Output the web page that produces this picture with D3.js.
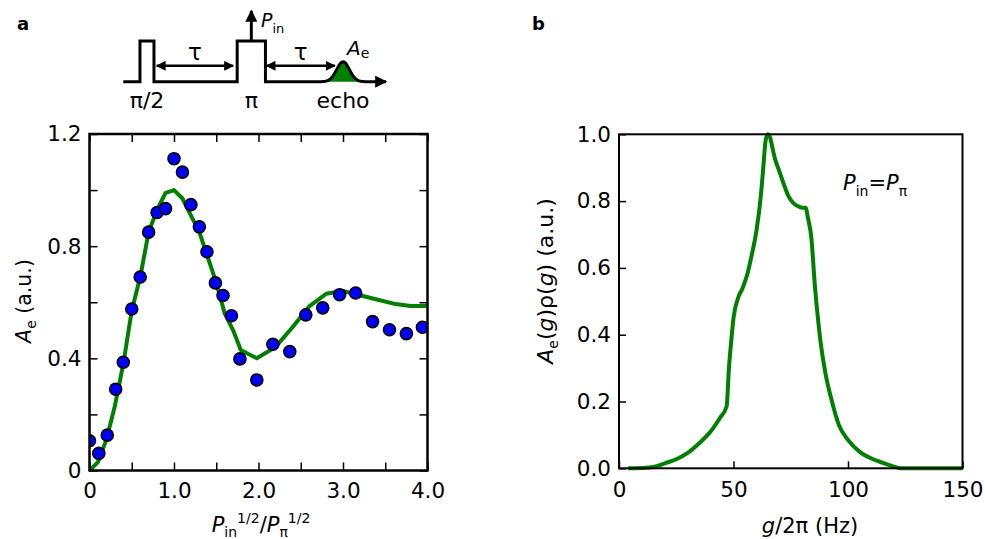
<!DOCTYPE html>
<html>
<head>
<meta charset="utf-8">
<script src="https://cdn.jsdelivr.net/npm/d3@7"></script>
<style>
  body { margin: 0; background: #fff; }
  svg { display: block; }
  .tick text { font-family: "DejaVu Sans", sans-serif; font-size: 21.5px; fill: #000; }
  .lbl { font-family: "DejaVu Sans", sans-serif; fill: #000; }
</style>
</head>
<body>
<svg width="985" height="539"></svg>
<script>
// panel a: fit curve and measured points
const fitX = [0,0.1,0.2,0.3,0.4,0.5,0.6,0.7,0.8,0.9,1.0,1.1,1.2,1.3,1.4,1.5,1.6,1.7,1.79,1.98,2.2,2.4,2.6,2.8,3.0,3.2,3.4,3.6,3.8,4.0]
const fitY = [0,0.03,0.11,0.23,0.38,0.57,0.69,0.85,0.93,0.99,1.0,0.97,0.91,0.85,0.76,0.67,0.56,0.50,0.43,0.40,0.44,0.51,0.585,0.63,0.64,0.625,0.61,0.595,0.587,0.587]
const dotX = [0,0.11,0.21,0.31,0.40,0.50,0.60,0.70,0.80,0.90,1.0,1.10,1.20,1.30,1.39,1.49,1.58,1.68,1.78,1.98,2.17,2.37,2.56,2.76,2.96,3.15,3.35,3.55,3.75,3.94]
const dotY = [0.106,0.061,0.126,0.29,0.386,0.576,0.69,0.85,0.92,0.934,1.112,1.064,0.948,0.869,0.78,0.669,0.624,0.552,0.398,0.323,0.45,0.424,0.555,0.58,0.627,0.633,0.531,0.502,0.488,0.511]
const aXTicks = [0,0.5,1,1.5,2,2.5,3,3.5,4]
const aXLabels = ["0","","1.0","","2.0","","3.0","","4.0"]
const aYTicks = [0,0.2,0.4,0.6,0.8,1.0,1.2]
const aYLabels = ["0","","0.4","","0.8","","1.2"]

// panel b: distribution
const gX = [4,10,15,20,25,30,35,40,44,47,48,49,50,52,54,56,58,60,62,63,64,65,66,67,68,70,72,74,76,78,80,81.5,82.5,84,85.5,87,88,90,93,96,100,105,110,115,120,123,135,150]
const gY = [0,0.001,0.004,0.015,0.027,0.046,0.075,0.11,0.15,0.185,0.30,0.38,0.45,0.51,0.54,0.58,0.64,0.71,0.82,0.90,0.98,1.0,0.99,0.96,0.93,0.89,0.85,0.815,0.795,0.785,0.78,0.78,0.75,0.69,0.55,0.44,0.38,0.29,0.20,0.13,0.085,0.05,0.03,0.017,0.005,0,0,0]
const bXTicks = [0,50,100,150]
const bYTicks = [0,0.2,0.4,0.6,0.8,1.0]

// pulse sequence sketch (time units / amplitude units)
const pulses = [[0.625,1.15],[4.27,5.33]]
const tauArrows = [[1.25,4.12],[5.37,7.93]]
const echoT = 8.24, echoAmp = 0.49, echoW = 0.24

const green = "#008000"
const svg = d3.select("svg")
svg.append("rect").attr("width",985).attr("height",539).attr("fill","#fff")

const defs = svg.append("defs")
defs.append("marker").attr("id","ah").attr("viewBox","0 0 10 10")
  .attr("refX",9).attr("refY",5).attr("markerWidth",4).attr("markerHeight",4)
  .attr("markerUnits","strokeWidth").attr("orient","auto-start-reverse")
  .append("path").attr("d","M0,0L10,5L0,10z").attr("fill","#000")
defs.append("clipPath").attr("id","clipA").append("rect")
  .attr("x",89.5).attr("y",134).attr("width",338).attr("height",336.5)

function axes(g, x, y, xt, xl, yt, yl, mirror, tick, pad) {
  g.append("g").attr("transform",`translate(0,${y.range()[0]})`)
    .call(d3.axisBottom(x).tickValues(xt).tickSize(-tick).tickPadding(pad).tickFormat((d,i)=>xl[i]))
  g.append("g").attr("transform",`translate(${x.range()[0]},0)`)
    .call(d3.axisLeft(y).tickValues(yt).tickSize(-tick).tickPadding(8).tickFormat((d,i)=>yl[i]))
  if (mirror) {
    g.append("g").attr("transform",`translate(0,${y.range()[1]})`)
      .call(d3.axisTop(x).tickValues(xt).tickSize(-tick).tickFormat(""))
    g.append("g").attr("transform",`translate(${x.range()[1]},0)`)
      .call(d3.axisRight(y).tickValues(yt).tickSize(-tick).tickFormat(""))
  }
  g.selectAll(".domain").remove()
  g.selectAll(".tick line").attr("stroke","#000").attr("stroke-width",1.5)
}

// ---------- panel a ----------
const xA = d3.scaleLinear([0,4],[89.5,427.5])
const yA = d3.scaleLinear([0,1.2],[470.5,134])
const gA = svg.append("g")
const plotA = gA.append("g").attr("clip-path","url(#clipA)")
plotA.append("path")
  .attr("d", d3.line().x((d,i)=>xA(fitX[i])).y(d=>yA(d))(fitY))
  .attr("fill","none").attr("stroke",green).attr("stroke-width",4).attr("stroke-linejoin","round")
plotA.selectAll("circle").data(dotY).join("circle")
  .attr("cx",(d,i)=>xA(dotX[i])).attr("cy",d=>yA(d)).attr("r",6)
  .attr("fill","#0000ff").attr("stroke","#000").attr("stroke-width",1.6)
axes(gA, xA, yA, aXTicks, aXLabels, aYTicks, aYLabels, true, 8, 12)
gA.append("rect").attr("x",89.5).attr("y",134).attr("width",338).attr("height",336.5)
  .attr("fill","none").attr("stroke","#000").attr("stroke-width",2.5)

const xl = gA.append("text").attr("class","lbl").attr("x",261).attr("y",532)
  .attr("text-anchor","middle").attr("font-size",21)
xl.append("tspan").attr("font-style","italic").text("P")
xl.append("tspan").attr("font-size",14).attr("dy",5).text("in")
xl.append("tspan").attr("font-size",14).attr("dy",-14).text("1/2")
xl.append("tspan").attr("dy",9).text("/")
xl.append("tspan").attr("font-style","italic").text("P")
xl.append("tspan").attr("font-size",14).attr("dy",5).text("π")
xl.append("tspan").attr("font-size",14).attr("dy",-14).text("1/2")

const yl = gA.append("text").attr("class","lbl").attr("transform","translate(31,301) rotate(-90)")
  .attr("text-anchor","middle").attr("font-size",20.5)
yl.append("tspan").attr("font-style","italic").text("A")
yl.append("tspan").attr("font-size",14).attr("dy",5).text("e")
yl.append("tspan").attr("dy",-5).text(" (a.u.)")

svg.append("text").attr("class","lbl").attr("x",17).attr("y",30)
  .attr("font-family","Liberation Sans").attr("font-size",18).attr("font-weight","bold").text("a")

// pulse sequence inset
const tS = d3.scaleLinear([0,10],[123.3,390])
const aS = d3.scaleLinear([0,1],[81.7,41])
const ins = svg.append("g")
const echoPts = d3.range(echoT-4*echoW, echoT+4*echoW+0.001, echoW/8)
  .map(t => [t, echoAmp*Math.exp(-0.5*((t-echoT)/echoW)**2)])
ins.append("path")
  .attr("d", d3.area().x(d=>tS(d[0])).y0(aS(0)).y1(d=>aS(d[1]))(echoPts))
  .attr("fill",green)
const seq = [[0,0],[pulses[0][0],0],[pulses[0][0],1],[pulses[0][1],1],[pulses[0][1],0],
  [pulses[1][0],0],[pulses[1][0],1],[pulses[1][1],1],[pulses[1][1],0],[echoPts[0][0],0]]
  .concat(echoPts).concat([[9.85,0]])
ins.append("path").attr("d", d3.line().x(d=>tS(d[0])).y(d=>aS(d[1]))(seq))
  .attr("fill","none").attr("stroke","#000").attr("stroke-width",3).attr("stroke-linejoin","miter")
  .attr("marker-end","url(#ah)")
const pc = (pulses[1][0]+pulses[1][1])/2
ins.append("line").attr("x1",tS(pc)).attr("x2",tS(pc)).attr("y1",aS(1)).attr("y2",aS(1.74))
  .attr("stroke","#000").attr("stroke-width",3).attr("marker-end","url(#ah)")
tauArrows.forEach(a => {
  ins.append("line").attr("x1",tS(a[0])).attr("x2",tS(a[1])).attr("y1",aS(0.39)).attr("y2",aS(0.39))
    .attr("stroke","#000").attr("stroke-width",2.5)
    .attr("marker-start","url(#ah)").attr("marker-end","url(#ah)")
  ins.append("text").attr("x",tS((a[0]+a[1])/2)).attr("y",60).attr("text-anchor","middle")
    .attr("font-family","DejaVu Sans").attr("font-size",23).text("τ")
})
const pin = ins.append("text").attr("class","lbl").attr("x",261).attr("y",27)
  .attr("font-family","Liberation Sans").attr("font-size",19)
pin.append("tspan").attr("font-style","italic").text("P")
pin.append("tspan").attr("font-size",13).attr("dy",6).text("in")
const ae = ins.append("text").attr("class","lbl").attr("x",347).attr("y",55)
  .attr("font-family","Liberation Sans").attr("font-size",20).attr("fill",green)
ae.append("tspan").attr("font-style","italic").text("A")
ae.append("tspan").attr("font-size",14).attr("dy",3).text("e")
;[["π/2",(pulses[0][0]+pulses[0][1])/2],["π",pc],["echo",echoT]].forEach(d => {
  ins.append("text").attr("x",tS(d[1])).attr("y",108).attr("text-anchor","middle")
    .attr("font-family","DejaVu Sans").attr("font-size",22).text(d[0])
})

// ---------- panel b ----------
const xB = d3.scaleLinear([0,150],[619,962.5])
const yB = d3.scaleLinear([0,1],[468.3,134.3])
const gB = svg.append("g")
gB.append("path")
  .attr("d", d3.line().x((d,i)=>xB(gX[i])).y(d=>yB(d)).curve(d3.curveMonotoneX)(gY))
  .attr("fill","none").attr("stroke",green).attr("stroke-width",4).attr("stroke-linejoin","round")
axes(gB, xB, yB, bXTicks, bXTicks.map(String), bYTicks, bYTicks.map(d=>d.toFixed(1)), false, 7, 13)
gB.append("rect").attr("x",619).attr("y",134.3).attr("width",343.5).attr("height",334)
  .attr("fill","none").attr("stroke","#000").attr("stroke-width",2)

const bl = gB.append("text").attr("class","lbl").attr("x",810).attr("y",533)
  .attr("text-anchor","middle").attr("font-size",21)
bl.append("tspan").attr("font-style","italic").text("g")
bl.append("tspan").text("/2π (Hz)")

const byl = gB.append("text").attr("class","lbl").attr("transform","translate(553,281) rotate(-90)")
  .attr("text-anchor","middle").attr("font-size",22)
byl.append("tspan").attr("font-style","italic").text("A")
byl.append("tspan").attr("font-size",14).attr("dy",5).text("e")
byl.append("tspan").attr("dy",-5).text("(")
byl.append("tspan").attr("font-style","italic").text("g")
byl.append("tspan").text(")ρ(")
byl.append("tspan").attr("font-style","italic").text("g")
byl.append("tspan").text(") (a.u.)")

const pp = gB.append("text").attr("class","lbl").attr("x",843).attr("y",190)
  .attr("font-family","Liberation Sans").attr("font-size",21)
pp.append("tspan").attr("font-style","italic").text("P")
pp.append("tspan").attr("font-size",14).attr("dy",6).text("in")
pp.append("tspan").attr("dy",-6).text("=")
pp.append("tspan").attr("font-style","italic").text("P")
pp.append("tspan").attr("font-size",14).attr("dy",6).text("π")

svg.append("text").attr("class","lbl").attr("x",532).attr("y",30)
  .attr("font-family","Liberation Sans").attr("font-size",18).attr("font-weight","bold").text("b")
</script>
</body>
</html>
